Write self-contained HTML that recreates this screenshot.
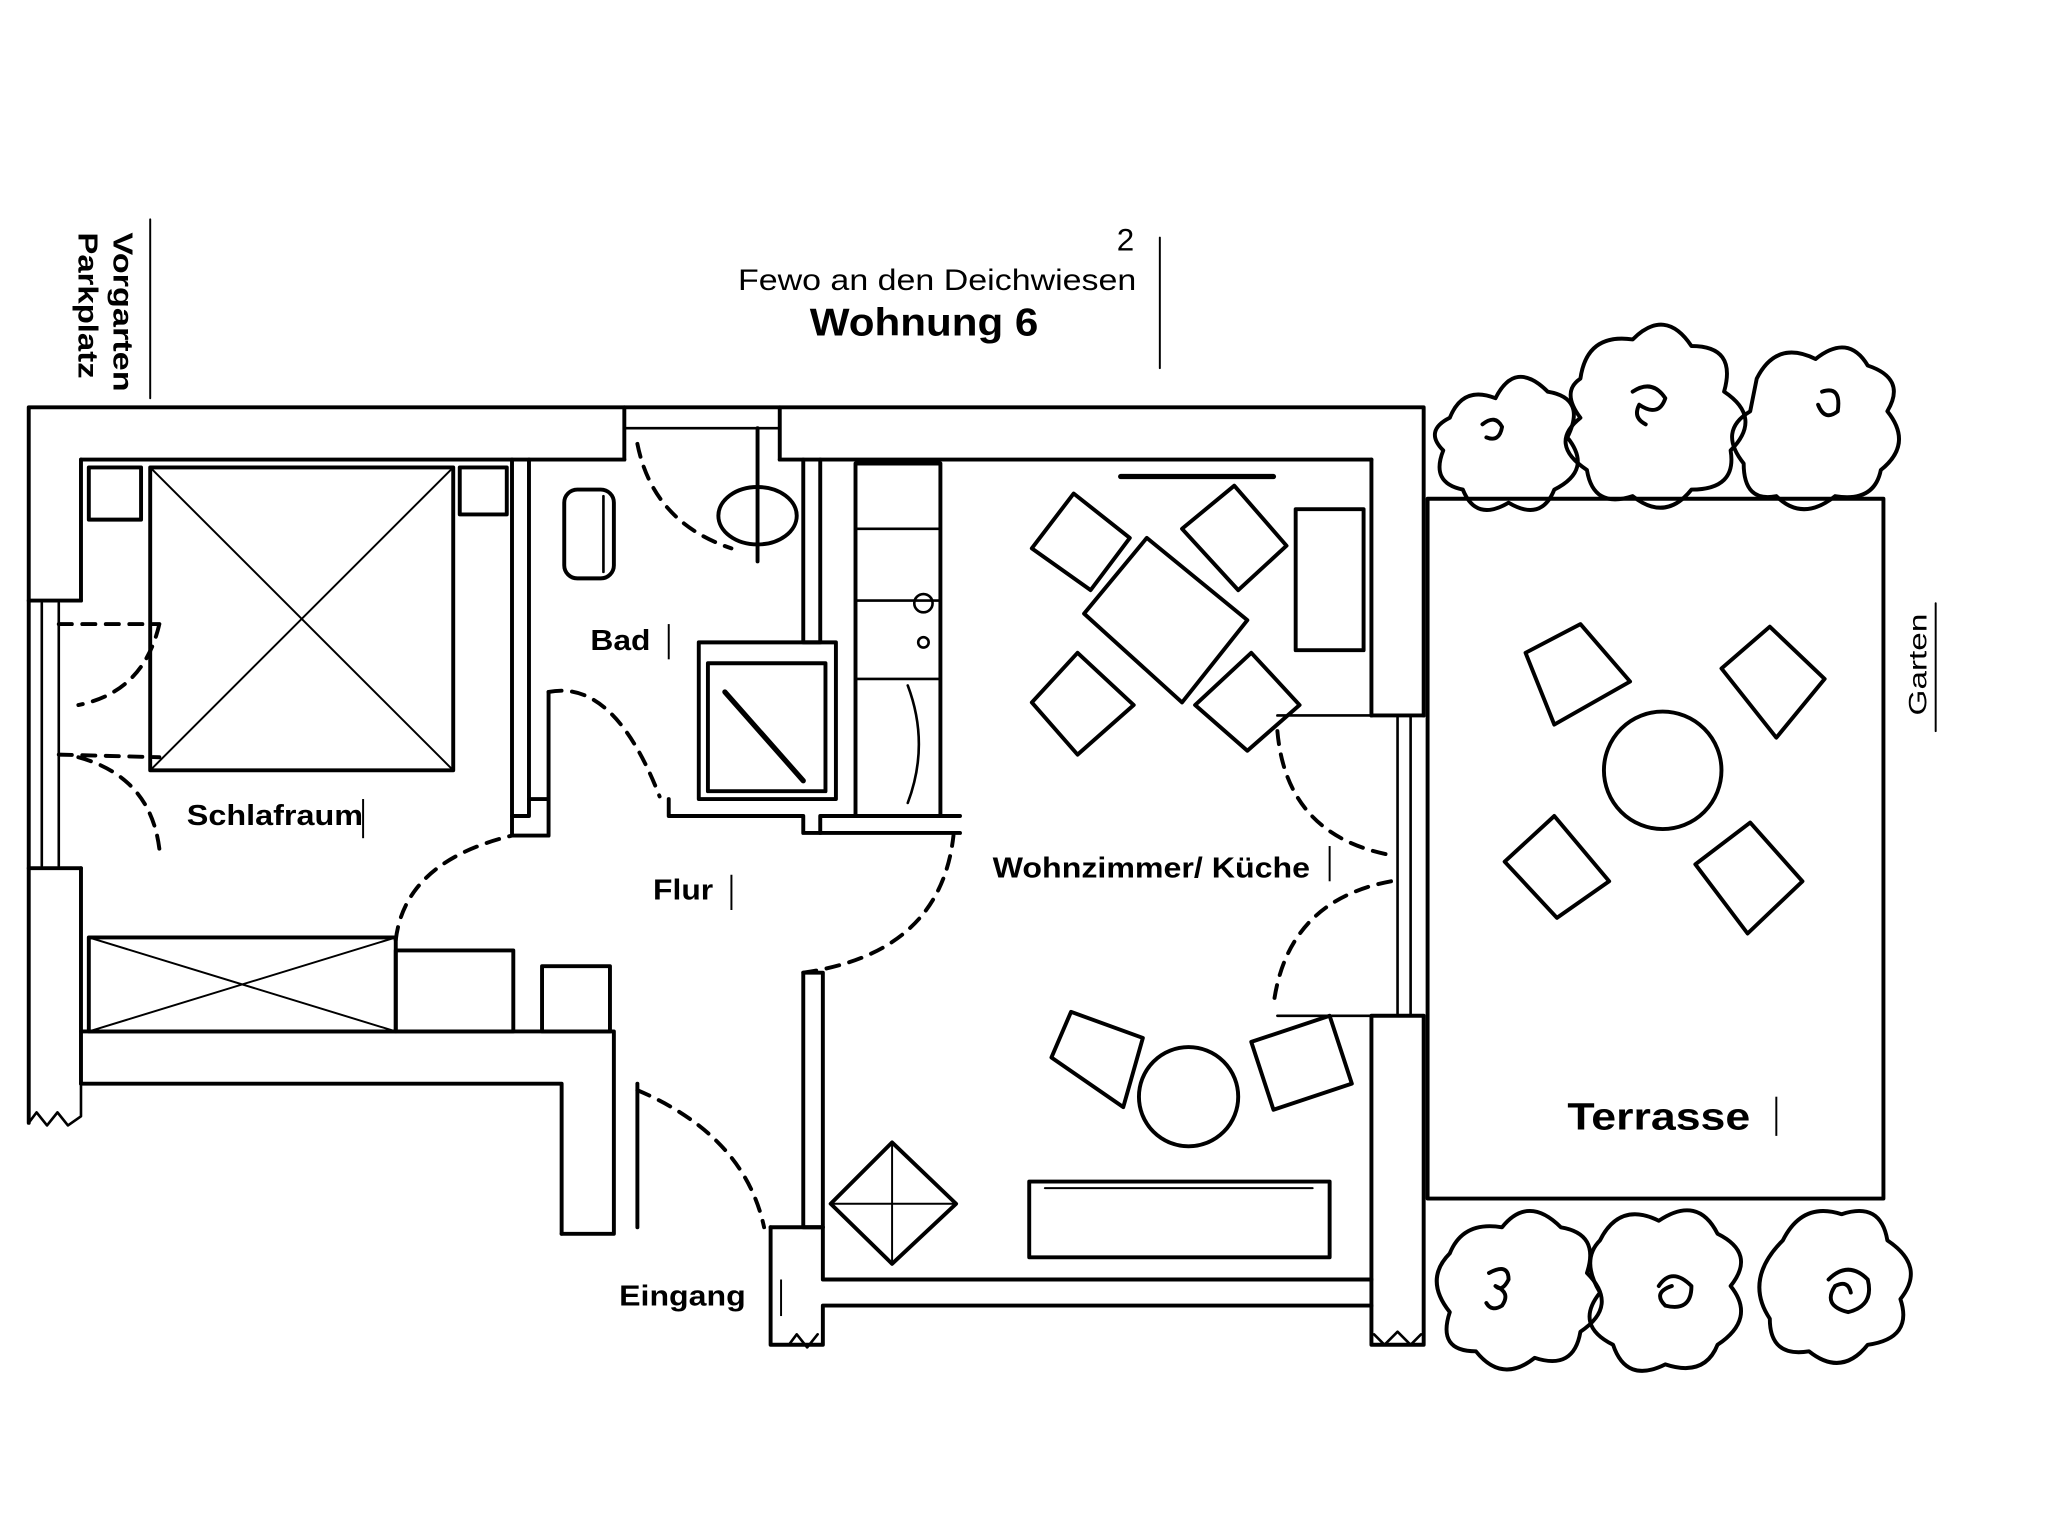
<!DOCTYPE html>
<html><head><meta charset="utf-8"><style>
html,body{margin:0;padding:0;background:#fff;}
svg{display:block;}
text{font-family:"Liberation Sans",sans-serif;fill:#000;}
</style></head><body>
<svg width="2048" height="1538" viewBox="0 0 1568 1178" preserveAspectRatio="none" xmlns="http://www.w3.org/2000/svg">
<rect width="1568" height="1178" fill="#fff"/>
<g fill="none" stroke="#000" stroke-width="3" stroke-linecap="round" stroke-linejoin="round">
<line x1="115" y1="168" x2="115" y2="305" stroke-width="1.5"/>
<line x1="888" y1="182" x2="888" y2="282" stroke-width="1.5"/>
<line x1="1482" y1="462" x2="1482" y2="560" stroke-width="1.5"/>
<polyline points="22,860 22,312 1090,312 1090,548"/>
<line x1="62" y1="352" x2="478" y2="352"/>
<line x1="597" y1="352" x2="1050" y2="352"/>
<line x1="478" y1="312" x2="478" y2="352"/><line x1="597" y1="312" x2="597" y2="352"/>
<line x1="478" y1="328" x2="597" y2="328" stroke-width="2"/>
<line x1="1050" y1="352" x2="1050" y2="548"/>
<line x1="1050" y1="548" x2="1090" y2="548"/>
<line x1="1070" y1="548" x2="1070" y2="778" stroke-width="2"/><line x1="1080" y1="548" x2="1080" y2="778" stroke-width="2"/>
<polyline points="1050,778 1090,778 1090,1030 1050,1030 1050,778"/>
<polyline points="1052,1022 1060,1030 1070,1020 1080,1030 1088,1022" stroke-width="2"/>
<line x1="62" y1="352" x2="62" y2="460"/><line x1="62" y1="665" x2="62" y2="830"/>
<line x1="22" y1="460" x2="62" y2="460"/><line x1="22" y1="665" x2="62" y2="665"/>
<line x1="32" y1="462" x2="32" y2="663" stroke-width="2"/><line x1="45" y1="462" x2="45" y2="663" stroke-width="2"/>
<polyline points="22,860 28,852 36,862 44,852 52,862 62,855 62,830" stroke-width="2"/>
<polyline points="62,790 470,790 470,945 430,945"/>
<polyline points="62,830 430,830 430,945"/>
<polyline points="590,940 590,1030 630,1030 630,1000 1050,1000"/>
<polyline points="630,940 630,980 1050,980"/>
<line x1="590" y1="940" x2="630" y2="940"/>
<polyline points="604,1030 610,1022 618,1032 626,1022" stroke-width="2"/>
<polyline points="392,352 392,625 405,625 405,352"/>
<polyline points="615,352 615,492 628,492 628,352"/>
<polyline points="512,612 512,625 615,625 615,638 628,638 628,625 735,625"/>
<line x1="628" y1="638" x2="735" y2="638"/>
<polyline points="405,612 420,612 420,640 392,640 392,625"/>
<polyline points="615,745 615,940 630,940 630,745 615,745"/>
<line x1="1050" y1="548" x2="978" y2="548" stroke-width="2"/>
<line x1="1050" y1="778" x2="978" y2="778" stroke-width="2"/>
<rect x="655" y="355" width="65" height="270"/>
<line x1="655" y1="405" x2="720" y2="405" stroke-width="2"/>
<line x1="655" y1="460" x2="720" y2="460" stroke-width="2"/>
<line x1="655" y1="520" x2="720" y2="520" stroke-width="2"/>
<circle cx="707" cy="462" r="7" stroke-width="2"/><circle cx="707" cy="492" r="4" stroke-width="2"/>
<path d="M695,525 Q712,570 695,615" stroke-width="2"/>
<line x1="858" y1="365" x2="975" y2="365" stroke-width="4"/>
<rect x="68" y="358" width="40" height="40"/><rect x="352" y="358" width="36" height="36"/>
<rect x="115" y="358" width="232" height="232"/>
<line x1="115" y1="358" x2="347" y2="590" stroke-width="1.5"/><line x1="347" y1="358" x2="115" y2="590" stroke-width="1.5"/>
<rect x="68" y="718" width="235" height="72"/>
<line x1="68" y1="718" x2="303" y2="790" stroke-width="1.5"/><line x1="303" y1="718" x2="68" y2="790" stroke-width="1.5"/>
<rect x="303" y="728" width="90" height="62"/>
<rect x="415" y="740" width="52" height="50"/>
<path d="M45,478 L122,478 M122,478 Q110,530 60,540" stroke-dasharray="10,8"/>
<path d="M45,578 L122,580 M122,650 Q115,595 60,580" stroke-dasharray="10,8"/>
<path d="M303,720 Q310,660 392,640" stroke-dasharray="10,8"/>
<rect x="432" y="375" width="38" height="68" rx="10"/>
<line x1="462" y1="380" x2="462" y2="438" stroke-width="2"/>
<ellipse cx="580" cy="395" rx="30" ry="22"/>
<line x1="580" y1="328" x2="580" y2="430"/>
<path d="M488,340 Q500,400 560,420" stroke-dasharray="10,8"/>
<rect x="535" y="492" width="105" height="120"/>
<rect x="542" y="508" width="90" height="98"/>
<line x1="555" y1="530" x2="615" y2="598" stroke-width="4"/>
<path d="M420,530 Q470,520 505,610" stroke-dasharray="10,8"/>
<line x1="420" y1="530" x2="420" y2="612"/>
<path d="M615,745 Q720,730 730,640" stroke-dasharray="10,8"/>
<line x1="488" y1="830" x2="488" y2="940"/>
<path d="M488,835 Q570,870 585,940" stroke-dasharray="10,8"/>
<path d="M978,560 Q985,640 1065,655" stroke-dasharray="10,8"/>
<path d="M1065,675 Q985,690 975,770" stroke-dasharray="10,8"/>
<polygon points="830,470 878,412 955,475 905,538"/>
<polygon points="790,420 822,378 865,412 835,452"/>
<polygon points="905,405 945,372 985,418 948,452"/>
<polygon points="790,538 825,500 868,540 825,578"/>
<polygon points="915,540 958,500 995,540 955,575"/>
<rect x="992" y="390" width="52" height="108"/>
<polygon points="805,810 820,775 875,795 860,848"/>
<polygon points="958,798 1018,778 1035,830 975,850"/>
<circle cx="910" cy="840" r="38"/>
<rect x="788" y="905" width="230" height="58"/>
<line x1="800" y1="910" x2="1005" y2="910" stroke-width="1.5"/>
<polygon points="683,875 732,922 683,968 636,922"/>
<line x1="683" y1="875" x2="683" y2="968" stroke-width="1.5"/><line x1="636" y1="922" x2="732" y2="922" stroke-width="1.5"/>
<rect x="1093" y="382" width="349" height="536"/>
<circle cx="1273" cy="590" r="45"/>
<polygon points="1168,500 1210,478 1248,522 1190,555"/>
<polygon points="1318,512 1355,480 1397,520 1360,565"/>
<polygon points="1152,660 1190,625 1232,675 1192,703"/>
<polygon points="1298,662 1340,630 1380,675 1338,715"/>
<path d="M1110,320 q10,-25 35,-15 q15,-30 40,-5 q30,5 15,35 q20,25 -10,40 q-10,25 -35,10 q-25,15 -35,-10 q-25,-5 -15,-30 q-15,-15 5,-25z"/>
<path d="M1210,290 q5,-35 40,-30 q25,-25 45,5 q35,0 25,35 q30,20 5,45 q5,30 -30,30 q-20,25 -45,5 q-30,10 -35,-20 q-30,-20 -5,-40 q-15,-20 0,-30z"/>
<path d="M1345,290 q15,-30 45,-15 q25,-20 40,5 q30,10 15,35 q20,25 -5,45 q-5,25 -35,20 q-25,20 -45,0 q-25,5 -25,-25 q-20,-25 5,-40z"/>
<path d="M1135,325 q10,-8 15,2 q-2,12 -12,8 M1250,300 q15,-10 25,5 q-5,15 -20,5 q-5,10 5,15 M1395,300 q15,-5 12,15 q-10,8 -15,-5"/>
<path d="M1110,960 q10,-25 40,-20 q20,-25 45,0 q30,5 20,35 q25,25 -5,45 q-5,30 -35,20 q-25,20 -45,-5 q-30,0 -20,-30 q-20,-25 0,-45z"/>
<path d="M1225,950 q15,-30 45,-15 q30,-20 45,10 q30,15 10,40 q20,25 -10,45 q-10,25 -40,15 q-30,15 -40,-15 q-30,-15 -10,-40 q-15,-25 0,-40z"/>
<path d="M1365,950 q15,-30 45,-20 q30,-10 35,20 q30,20 10,45 q10,30 -25,35 q-20,25 -45,5 q-30,5 -30,-25 q-20,-30 10,-60z"/>
<path d="M1140,975 q15,-8 15,5 q-5,10 -10,5 q12,5 5,15 q-8,5 -12,-2 M1270,985 q10,-15 25,0 q0,20 -20,15 q-10,-10 5,-15 M1400,980 q15,-15 30,0 q5,20 -15,25 q-20,-5 -10,-20 q10,-5 12,5"/>
</g>
<g stroke="#000" stroke-width="1.5">
<line x1="278" y1="612" x2="278" y2="642"/><line x1="512" y1="478" x2="512" y2="505"/>
<line x1="560" y1="670" x2="560" y2="697"/><line x1="1018" y1="648" x2="1018" y2="675"/>
<line x1="1360" y1="840" x2="1360" y2="870"/><line x1="598" y1="980" x2="598" y2="1008"/>
</g>
<text x="565" y="222" font-size="23" textLength="305" lengthAdjust="spacingAndGlyphs">Fewo an den Deichwiesen</text>
<text x="620" y="257" font-size="30" font-weight="bold" textLength="175" lengthAdjust="spacingAndGlyphs">Wohnung 6</text>
<text transform="translate(87,178) rotate(90)" font-size="21" font-weight="bold" textLength="122" lengthAdjust="spacingAndGlyphs">Vorgarten</text>
<text transform="translate(60,178) rotate(90)" font-size="21" font-weight="bold" textLength="112" lengthAdjust="spacingAndGlyphs">Parkplatz</text>
<text transform="translate(1475,548) rotate(-90)" font-size="19" textLength="78" lengthAdjust="spacingAndGlyphs">Garten</text>
<text x="143" y="632" font-size="22" font-weight="bold" textLength="135" lengthAdjust="spacingAndGlyphs">Schlafraum</text>
<text x="452" y="498" font-size="22" font-weight="bold" textLength="46" lengthAdjust="spacingAndGlyphs">Bad</text>
<text x="500" y="689" font-size="22" font-weight="bold" textLength="46" lengthAdjust="spacingAndGlyphs">Flur</text>
<text x="760" y="672" font-size="22" font-weight="bold" textLength="243" lengthAdjust="spacingAndGlyphs">Wohnzimmer/ Küche</text>
<text x="1200" y="865" font-size="29" font-weight="bold" textLength="140" lengthAdjust="spacingAndGlyphs">Terrasse</text>
<text x="474" y="1000" font-size="22" font-weight="bold" textLength="97" lengthAdjust="spacingAndGlyphs">Eingang</text>
<text x="855" y="192" font-size="24" fill="#888">2</text>
</svg>
</body></html>
